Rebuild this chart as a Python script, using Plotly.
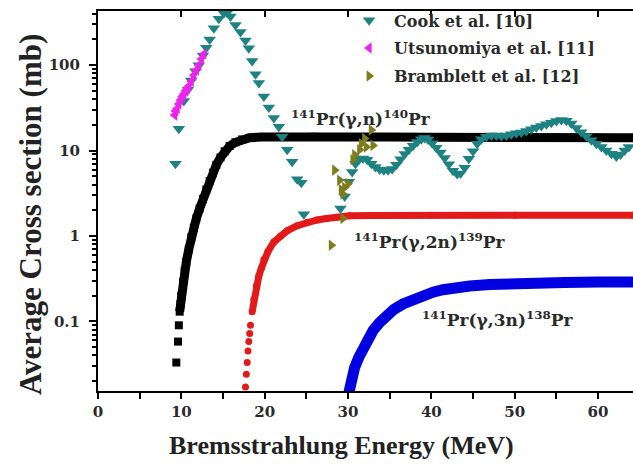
import numpy as np
import plotly.graph_objects as go

# ---------------- data ----------------
cook_E = [9.3, 9.7, 10.3, 10.8, 11.2, 11.7, 12.1, 12.6, 13.0, 13.4, 13.9, 14.5, 15.1, 15.5,
          15.9, 16.5, 17.1, 17.7, 18.1, 18.5, 18.9, 19.3, 19.9, 20.5, 21.1, 21.7, 22.1, 22.7,
          23.3, 23.9, 24.4, 24.7,
          29.1, 29.6, 30.1, 30.5, 30.9, 31.3, 31.8, 32.3, 32.8, 33.3, 33.8, 34.3, 34.8, 35.3,
          35.8, 36.3, 36.8, 37.3, 37.8, 38.3, 38.8, 39.2, 39.6, 40.1, 40.6, 41.1, 41.6, 42.1,
          42.6, 43.1, 43.5, 44.0, 44.5, 45.0, 45.5, 46.0, 46.6, 47.2, 47.8, 48.4, 49.0, 49.6,
          50.2, 50.8, 51.4, 52.0, 52.6, 53.2, 53.8, 54.4, 55.0, 55.6, 56.2, 56.8, 57.4, 58.0,
          58.6, 59.2, 59.8, 60.4, 61.0, 61.6, 62.2, 62.7, 63.2, 63.7]
cook_v = [7.0, 18, 38, 52, 66, 85, 100, 130, 160, 200, 270, 350, 405, 410,
          370, 295, 245, 195, 158, 112, 78, 62, 43, 32, 24, 19, 14.5, 10.2,
          7.4, 4.6, 4.2, 1.8,
          2.1, 2.9, 4.3, 5.6, 7.0, 7.8, 8.1, 7.8, 7.0, 6.4, 6.0, 5.9, 5.9, 6.1,
          6.8, 7.9, 9.1, 10.2, 11.4, 12.6, 13.6, 14.0, 13.5, 12.2, 10.8, 9.5, 8.2, 6.9,
          5.8, 5.3, 5.4, 6.3, 8.0, 9.8, 12.0, 13.6, 14.5, 15.0, 15.0, 14.8, 15.0, 15.5,
          15.9, 16.3, 16.9, 17.8, 18.6, 19.4, 20.3, 21.2, 22.2, 22.8, 22.3, 20.7, 18.4, 16.4,
          14.7, 13.2, 12.0, 11.0, 10.0, 9.2, 8.5, 9.0, 10.0, 11.0]

utsu_E = [9.2, 9.3, 9.5, 9.7, 9.9, 10.1, 10.3, 10.5, 10.7, 10.9, 11.2, 11.5, 11.8, 12.1, 12.4, 12.7]
utsu_v = [26, 29, 31, 35, 39, 43, 46, 50, 53, 57, 65, 76, 88, 100, 118, 135]

bram_E = [28.0, 28.4, 29.0, 29.2, 29.4, 29.4, 29.6, 30.0, 30.6, 30.8, 31.4, 31.6, 32.0, 32.2, 32.8, 33.0]
bram_v = [0.78, 5.9, 4.5, 3.5, 1.6, 3.1, 3.7, 4.1, 7.8, 8.9, 10.2, 12.0, 13.8, 11.0, 17.4, 11.5]

gn_E = [9.4, 9.6, 9.7, 9.8, 9.9, 10.0, 10.2, 10.4, 10.6, 10.9, 11.2, 11.5, 11.8, 12.2, 12.6,
        13.0, 13.4, 13.8, 14.2, 14.7, 15.2, 15.8, 16.5, 17.3, 18.2, 19.5, 22.0, 26.0, 30.0,
        35.0, 40.0, 45.0, 50.0, 55.0, 60.0, 64.2]
gn_v = [0.033, 0.058, 0.09, 0.13, 0.16, 0.2, 0.29, 0.39, 0.5, 0.7, 0.97, 1.25, 1.6, 2.1, 2.7,
        3.5, 4.4, 5.5, 6.8, 8.3, 9.8, 11.3, 12.5, 13.5, 14.1, 14.4, 14.5, 14.5, 14.4,
        14.4, 14.3, 14.3, 14.2, 14.2, 14.1, 14.1]

g2n_E = [17.7, 17.8, 17.9, 18.0, 18.1, 18.2, 18.3, 18.5, 18.7, 19.0, 19.3, 19.6, 19.9, 20.4,
         21.1, 21.9, 22.7, 23.9, 25.1, 26.3, 27.4, 28.6, 30.2, 33.0, 40.0, 50.0, 64.2]
g2n_v = [0.017, 0.024, 0.033, 0.045, 0.058, 0.072, 0.09, 0.13, 0.18, 0.26, 0.34, 0.42, 0.53, 0.66,
         0.85, 1.0, 1.15, 1.32, 1.45, 1.54, 1.6, 1.66, 1.72, 1.74, 1.75, 1.75, 1.75]

g3n_E = [29.9, 30.2, 30.5, 30.8, 31.3, 31.8, 32.4, 33.0, 33.8, 34.6, 35.5, 36.6, 37.8, 39.0,
         40.2, 41.4, 43.0, 44.6, 47.0, 50.0, 53.0, 56.0, 60.0, 64.2]
g3n_v = [0.012, 0.017, 0.022, 0.029, 0.038, 0.049, 0.062, 0.078, 0.097, 0.117, 0.138, 0.16, 0.18,
         0.2, 0.22, 0.235, 0.25, 0.26, 0.27, 0.28, 0.283, 0.286, 0.29, 0.29]

x_ticks = [0, 10, 20, 30, 40, 50, 60]
y_ticks = [0.1, 1, 10, 100]
y_tick_text = ["0.1", "1", "10", "100"]

legend_names = ["Cook et al. [10]", "Utsunomiya et al. [11]", "Bramblett et al. [12]"]
label_gn = "<sup>141</sup>Pr(γ,n)<sup>140</sup>Pr"
label_g2n = "<sup>141</sup>Pr(γ,2n)<sup>139</sup>Pr"
label_g3n = "<sup>141</sup>Pr(γ,3n)<sup>138</sup>Pr"

# ---------------- figure ----------------
SERIF = "DejaVu Serif"
TIMES = "Liberation Serif"
BLACK = "#000000"
RED = "#e31a1a"
BLUE = "#0000e0"
TEAL = "#1f8282"
MAGENTA = "#ee22ee"
OLIVE = "#7d7d1e"

fig = go.Figure()

# theory curves: continuous band (line) + markers
fig.add_trace(go.Scatter(x=gn_E[3:], y=gn_v[3:], mode="lines",
                         line=dict(color=BLACK, width=9), showlegend=False, hoverinfo="skip"))
fig.add_trace(go.Scatter(x=gn_E, y=gn_v, mode="markers",
                         marker=dict(symbol="square", size=8, color=BLACK), showlegend=False))

fig.add_trace(go.Scatter(x=g2n_E[7:], y=g2n_v[7:], mode="lines",
                         line=dict(color=RED, width=7), showlegend=False, hoverinfo="skip"))
fig.add_trace(go.Scatter(x=g2n_E, y=g2n_v, mode="markers",
                         marker=dict(symbol="circle", size=7, color=RED), showlegend=False))

fig.add_trace(go.Scatter(x=g3n_E, y=g3n_v, mode="lines",
                         line=dict(color=BLUE, width=11), showlegend=False, hoverinfo="skip"))

# experimental data
fig.add_trace(go.Scatter(x=cook_E, y=cook_v, mode="markers", name=legend_names[0],
                         legendgroup="a",
                         marker=dict(symbol="triangle-down", size=11, color=TEAL)))
fig.add_trace(go.Scatter(x=utsu_E, y=utsu_v, mode="markers", name=legend_names[1],
                         legendgroup="b",
                         marker=dict(symbol="triangle-left", size=10, color=MAGENTA)))
fig.add_trace(go.Scatter(x=bram_E, y=bram_v, mode="markers", name=legend_names[2],
                         legendgroup="c",
                         marker=dict(symbol="triangle-right", size=10, color=OLIVE)))

# empty trace so that the top (mirror) x axis is drawn
fig.add_trace(go.Scatter(x=[], y=[], xaxis="x2", showlegend=False))

minor_y = [m * 10.0 ** d for d in range(-2, 3) for m in range(2, 10)]

tickfont = dict(family=SERIF, size=15, color="#2a2a2a", weight="bold")

fig.update_layout(
    width=633, height=474,
    margin=dict(l=98, r=0, t=11, b=83),
    paper_bgcolor="white", plot_bgcolor="white",
    xaxis=dict(range=[0, 64.2], showline=True, linewidth=2, linecolor=BLACK,
               ticks="outside", ticklen=6, tickwidth=2, tickcolor=BLACK,
               tickvals=x_ticks, ticktext=[str(t) for t in x_ticks],
               minor=dict(ticks="outside", ticklen=6, tickwidth=1.5, tickcolor=BLACK,
                          dtick=5, tick0=0, showgrid=False),
               showgrid=False, zeroline=False, tickfont=tickfont),
    xaxis2=dict(overlaying="x", matches="x", side="top", anchor="y",
                showline=True, linewidth=2, linecolor=BLACK,
                ticks="inside", ticklen=6, tickwidth=2, tickcolor=BLACK,
                tickvals=x_ticks, showticklabels=False, showgrid=False, zeroline=False),
    yaxis=dict(type="log", range=[-1.815, 2.634], showline=True, linewidth=2, linecolor=BLACK,
               ticks="outside", ticklen=7, tickwidth=2, tickcolor=BLACK,
               tickvals=y_ticks, ticktext=y_tick_text, ticklabelstandoff=6,
               minor=dict(ticks="outside", ticklen=4, tickwidth=1.5, tickcolor=BLACK,
                          tickvals=minor_y, showgrid=False),
               showgrid=False, zeroline=False, tickfont=tickfont),
    legend=dict(x=0.46, y=1.02, xanchor="left", yanchor="top",
                bgcolor="rgba(0,0,0,0)", tracegroupgap=4, itemwidth=40,
                font=dict(family=SERIF, size=16, color="#2a2a2a", weight="bold")),
    showlegend=True,
)

annfont = dict(family=SERIF, size=17, color="#2a2a2a", weight="bold")
fig.add_annotation(x=31.6, y=np.log10(23.9), xref="x", yref="y", text=label_gn,
                   showarrow=False, font=annfont)
fig.add_annotation(x=39.8, y=np.log10(0.883), xref="x", yref="y", text=label_g2n,
                   showarrow=False, font=annfont)
fig.add_annotation(x=48.0, y=np.log10(0.107), xref="x", yref="y", text=label_g3n,
                   showarrow=False, font=annfont)

# axis titles
fig.add_annotation(x=(341 - 98) / 535, y=(391 - 445) / 380, xref="paper", yref="paper",
                   text="Bremsstrahlung Energy (MeV)", showarrow=False,
                   xanchor="center", yanchor="middle",
                   font=dict(family=TIMES, size=26, color="#222222", weight="bold"))
fig.add_annotation(x=(30 - 98) / 535, y=(391 - 215) / 380, xref="paper", yref="paper",
                   text="Average Cross section (mb)", showarrow=False, textangle=-90,
                   xanchor="center", yanchor="middle",
                   font=dict(family=TIMES, size=31, color="#222222", weight="bold"))

fig.write_html("out.html", config={"displayModeBar": False},
               post_script="document.body.style.margin='0';document.body.style.overflow='hidden';")
